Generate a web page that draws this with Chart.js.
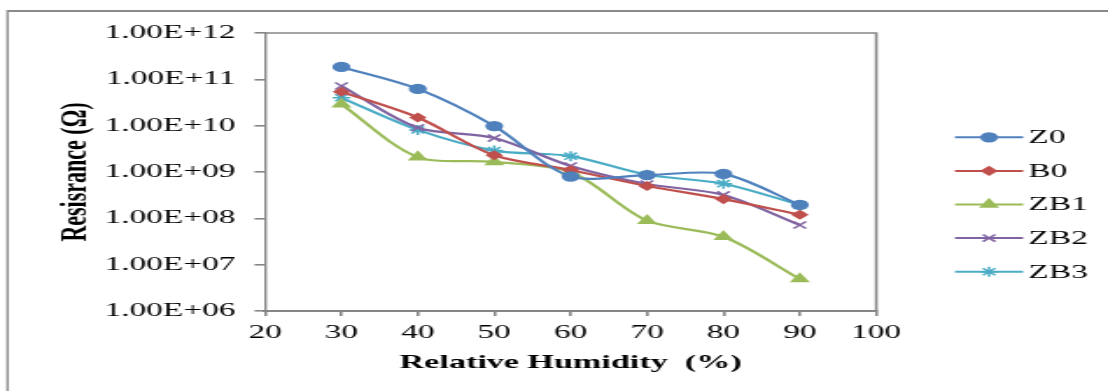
<!DOCTYPE html>
<html>
<head>
<meta charset="utf-8">
<script src="https://cdn.jsdelivr.net/npm/chart.js@4.4.1/dist/chart.umd.min.js"></script>
<style>
  html, body { margin: 0; padding: 0; background: #fff; overflow: hidden; }
  #wrap { width: 633px; height: 391px; transform: scaleX(1.7504); transform-origin: 0 0; }
</style>
</head>
<body>
<div id="wrap"><canvas id="myChart" width="633" height="391"></canvas></div>
<script>
// Relative humidity (%) on x, resistance (ohm) on a log y axis
const humidity = [30, 40, 50, 60, 70, 80, 90];
const z0 = [1.85e11, 6.2e10, 9.8e9, 8.0e8, 8.6e8, 9.1e8, 1.95e8];
const b0 = [5.4e10, 1.5e10, 2.3e9, 1.1e9, 5.0e8, 2.6e8, 1.2e8];
const zb1 = [2.9e10, 2.1e9, 1.65e9, 1.0e9, 8.9e7, 4.0e7, 4.9e6];
const zb2 = [7.2e10, 9.0e9, 5.4e9, 1.35e9, 5.5e8, 3.2e8, 7.2e7];
const zb3 = [4.0e10, 8.1e9, 2.9e9, 2.2e9, 8.7e8, 5.6e8, 1.95e8];

const seriesNames = ['Z0', 'B0', 'ZB1', 'ZB2', 'ZB3'];
const yTickValues = [1e6, 1e7, 1e8, 1e9, 1e10, 1e11, 1e12];

const serif = "'Liberation Serif', 'Times New Roman', serif";
const axisGray = '#868686';

const styles = [
  { color: '#4F81BD', point: 'circle', radius: 4.4 },
  { color: '#C0504D', point: 'rectRot', radius: 4 },
  { color: '#9BBB59', point: 'triangle', radius: 5.2 },
  { color: '#8064A2', point: 'crossRot', radius: 5 },
  { color: '#4BACC6', point: 'star', radius: 5 },
];

const toPoints = (vals) => vals.map((v, i) => ({ x: humidity[i], y: v }));

const datasets = [z0, b0, zb1, zb2, zb3].map((vals, i) => ({
  label: seriesNames[i],
  data: toPoints(vals),
  borderColor: styles[i].color,
  backgroundColor: styles[i].color,
  pointStyle: styles[i].point,
  pointRadius: styles[i].radius,
  pointBorderWidth: 1.5,
  borderWidth: 2.2,
  tension: 0.3,
}));

// frame around the figure and box round the plot area
const framePlugin = {
  id: 'frame',
  beforeDraw(chart) {
    const ctx = chart.ctx;
    ctx.save();
    ctx.strokeStyle = '#8a8a8a';
    ctx.lineWidth = 2;
    ctx.beginPath();
    ctx.moveTo(4.3, 11);
    ctx.lineTo(633, 11);
    ctx.stroke();
    ctx.lineWidth = 1.3;
    ctx.beginPath();
    ctx.moveTo(4.3, 10);
    ctx.lineTo(4.3, 391);
    ctx.stroke();
    ctx.restore();
  },
  afterDraw(chart) {
    const { ctx, chartArea } = chart;
    ctx.save();
    ctx.strokeStyle = axisGray;
    ctx.lineWidth = 1.6;
    ctx.beginPath();
    ctx.moveTo(chartArea.left, chartArea.top);
    ctx.lineTo(chartArea.right, chartArea.top);
    ctx.lineTo(chartArea.right, chartArea.bottom);
    ctx.stroke();
    ctx.restore();
  },
};

// legend drawn as line + marker, like the spreadsheet one
const legendPlugin = {
  id: 'sideLegend',
  afterDraw(chart) {
    const ctx = chart.ctx;
    const x0 = 545.6, x1 = 584.5, tx = 587.6;
    ctx.save();
    chart.data.datasets.forEach((ds, i) => {
      const y = 137.3 + i * 33.6;
      ctx.strokeStyle = ds.borderColor;
      ctx.fillStyle = ds.backgroundColor;
      ctx.lineWidth = 2;
      ctx.beginPath();
      ctx.moveTo(x0, y);
      ctx.lineTo(x1, y);
      ctx.stroke();
      ctx.lineWidth = 1.5;
      Chart.helpers.drawPoint(ctx, {
        pointStyle: ds.pointStyle,
        radius: ds.pointRadius,
        rotation: 0,
        borderWidth: 1.5,
      }, (x0 + x1) / 2, y);
      ctx.fillStyle = '#000';
      ctx.font = '19px ' + serif;
      ctx.textBaseline = 'middle';
      ctx.textAlign = 'left';
      ctx.fillText(ds.label, tx, y + 1);
    });
    ctx.restore();
  },
};

const config = {
  type: 'line',
  data: { datasets },
  options: {
    responsive: false,
    animation: false,
    events: [],
    layout: { padding: { left: 0, top: 33, right: 132.4, bottom: 0 } },
    scales: {
      x: {
        type: 'linear',
        min: 20,
        max: 100,
        afterFit: (scale) => { scale.height = 80; },
        ticks: {
          stepSize: 10,
          padding: 6,
          color: '#000',
          font: { family: serif, size: 19 },
        },
        grid: {
          drawOnChartArea: false,
          drawTicks: true,
          tickLength: 5,
          color: axisGray,
          lineWidth: 1.6,
        },
        border: { color: axisGray, width: 2 },
        title: {
          display: true,
          text: 'Relative Humidity  (%)',
          color: '#000',
          font: { family: serif, size: 19.5, weight: 'bold' },
          padding: { top: 0, bottom: 16 },
        },
      },
      y: {
        type: 'logarithmic',
        min: 1e6,
        max: 1e12,
        afterFit: (scale) => { scale.width = 151.4; },
        afterBuildTicks: (scale) => {
          scale.ticks = yTickValues.map(v => ({ value: v, major: true }));
        },
        ticks: {
          padding: 11,
          color: '#000',
          font: { family: serif, size: 19 },
          callback: (v) => {
            const e = Math.round(Math.log10(v));
            return '1.00E+' + (e < 10 ? '0' + e : e);
          },
        },
        grid: {
          drawOnChartArea: false,
          drawTicks: true,
          tickLength: 6,
          color: axisGray,
          lineWidth: 1.6,
        },
        border: { color: axisGray, width: 1.4 },
        title: {
          display: true,
          text: 'Resisrance (\u03A9)',
          color: '#000',
          font: { family: serif, size: 22, weight: 'bold' },
          padding: { top: 29.8, bottom: 0 },
        },
      },
    },
    plugins: {
      legend: { display: false },
      tooltip: { enabled: false },
    },
  },
  plugins: [framePlugin, legendPlugin],
};

const myChart = new Chart(document.getElementById('myChart'), config);
</script>
</body>
</html>
